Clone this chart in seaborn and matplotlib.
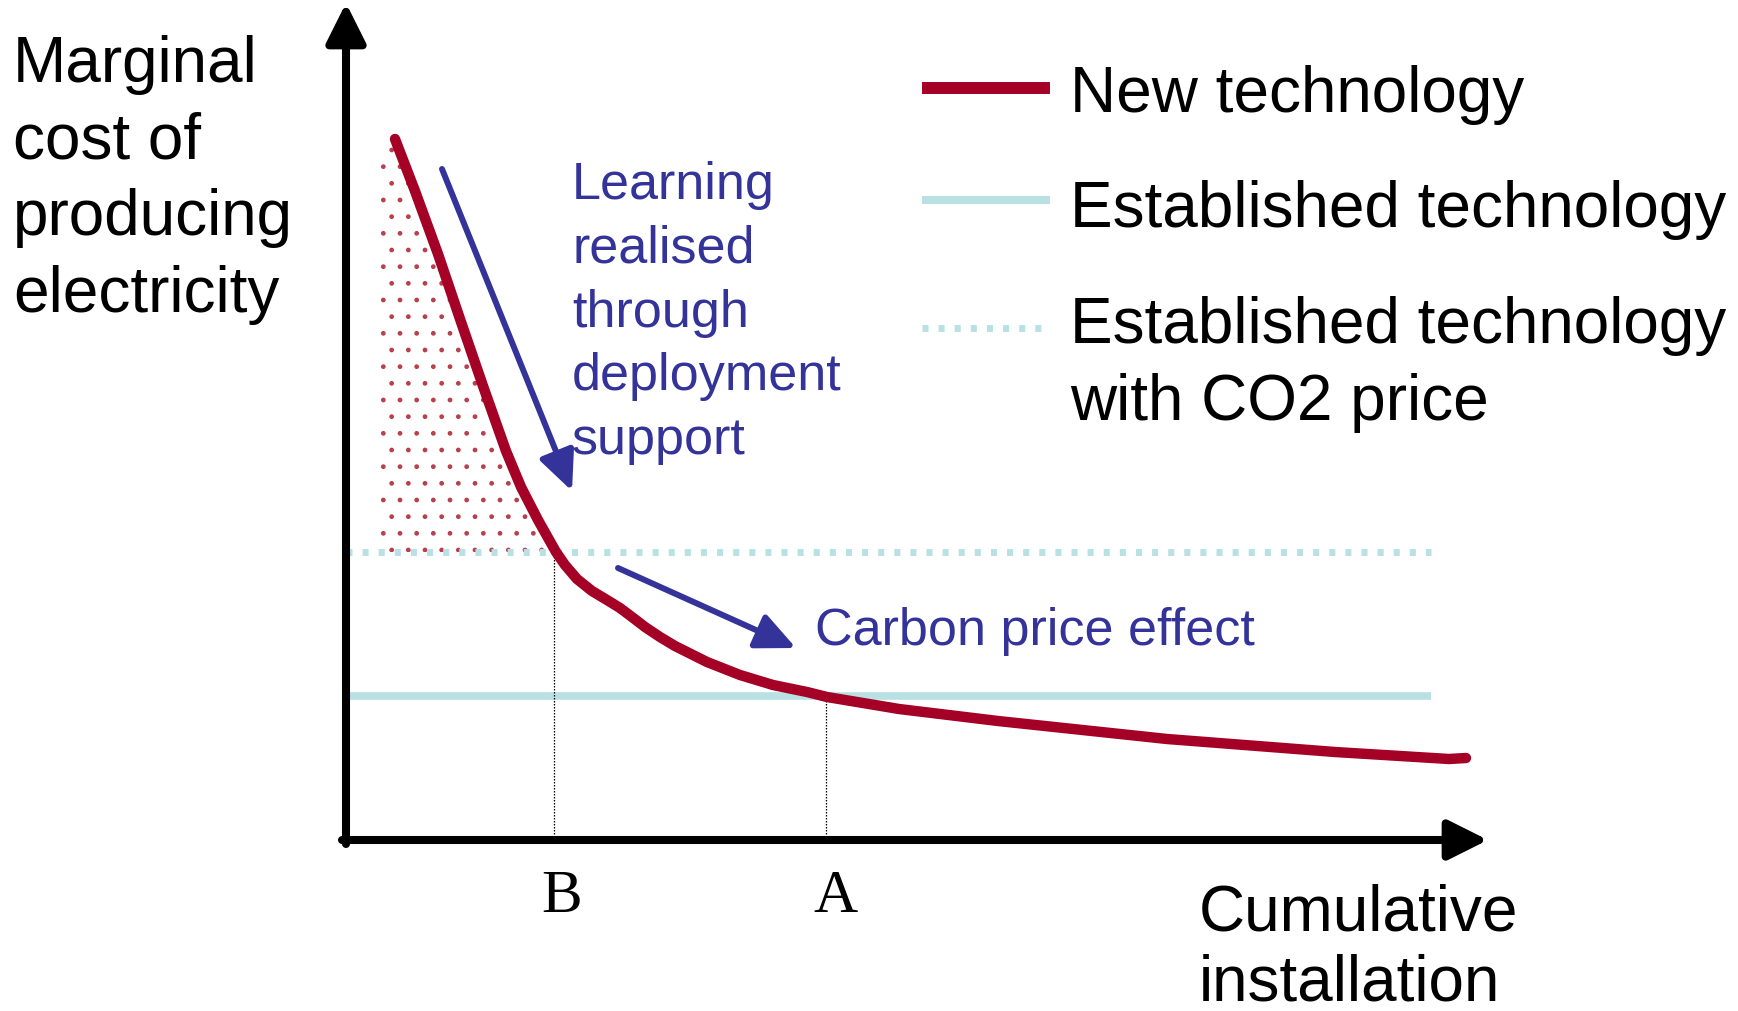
import matplotlib
matplotlib.use("Agg")
import matplotlib.pyplot as plt
from matplotlib.lines import Line2D
import seaborn as sns

# learning curve of the new technology (arbitrary units)
installation = [4.9, 6.9, 9.2, 11.4, 13.7, 16.0, 17.5, 19.2, 21.0, 21.9, 23.1, 24.6,
                26.1, 27.4, 28.6, 29.9, 31.4, 32.9, 36.1, 39.4, 42.7, 46.1, 48.1,
                55.3, 65.2, 82.1, 98.9, 110.3, 112.0]
new_cost = [70.1, 64.9, 58.6, 52.1, 45.4, 38.9, 35.3, 32.0, 28.8, 27.5, 26.1, 24.9,
            24.0, 23.2, 22.3, 21.3, 20.3, 19.4, 17.8, 16.5, 15.5, 14.8, 14.3,
            13.1, 11.9, 10.1, 8.8, 8.1, 8.2]

established_cost = 14.4      # established technology
established_co2_cost = 28.8  # established technology with CO2 price
line_end = 108.5

point_b = 20.8
point_a = 48.0
hatch_left = 3.4

learning_arrow = [(9.6, 67.1), (22.6, 34.9)]
carbon_arrow = [(27.2, 27.2), (45.0, 19.2)]

RED = "#a50026"
CYAN = "#b9e1e3"
BLUE = "#333399"
DOT_RED = "#b8404e"

W, H = 1738, 1012

sns.set_theme(style="white")
plt.rcParams["font.family"] = ["Liberation Sans", "DejaVu Sans"]
plt.rcParams["text.color"] = "black"


def fx(px):
    return px / W


def fy(py):
    return 1 - py / H


fig = plt.figure(figsize=(W / 100, H / 100), dpi=100)
ax = fig.add_axes([fx(346), fy(841), (1482 - 346) / W, (841 - 8) / H])
ax.set_xlim(0, 113.6)
ax.set_ylim(0, 83.3)
ax.axis("off")

# dotted area: extra cost covered by deployment support
n_fill = next(i for i, c in enumerate(new_cost) if c <= established_co2_cost) + 1
ax.fill_betweenx(new_cost[:n_fill], hatch_left, installation[:n_fill],
                 facecolor="none", edgecolor=DOT_RED, hatch=".", lw=0)

# established technology lines
ax.plot([0, line_end], [established_co2_cost] * 2, color=CYAN, lw=5,
        dashes=(0.87, 1.45), dash_capstyle="butt")
ax.plot([0, line_end], [established_cost] * 2, color=CYAN, lw=5.5,
        solid_capstyle="butt")

# guides down to B and A
ax.plot([point_b, point_b], [0, established_co2_cost], color="black", lw=0.9,
        ls=(0, (1.2, 1.2)))
ax.plot([point_a, point_a], [0, established_cost], color="black", lw=0.9,
        ls=(0, (1.2, 1.2)))

# new technology curve
sns.lineplot(x=installation, y=new_cost, sort=False, color=RED, lw=7.5, ax=ax,
             solid_capstyle="round", solid_joinstyle="round")

# axes with arrow heads
axis_arrow = dict(arrowstyle="-|>,head_length=24,head_width=12", mutation_scale=1,
                  color="black", lw=5.8, shrinkA=0, shrinkB=0)
ax.annotate("", xy=(114.2, 0), xytext=(-0.4, 0), arrowprops=axis_arrow,
            annotation_clip=False)
ax.annotate("", xy=(0, 83.7), xytext=(0, -0.4), arrowprops=axis_arrow,
            annotation_clip=False)

# blue arrows
blue_arrow = dict(arrowstyle="-|>,head_length=24,head_width=11", mutation_scale=1,
                  color=BLUE, lw=4.3, shrinkA=0, shrinkB=0)
for start, end in (learning_arrow, carbon_arrow):
    ax.annotate("", xy=end, xytext=start, arrowprops=blue_arrow)

# texts
fig.text(fx(13), fy(35), "Marginal\ncost of\nproducing\nelectricity", fontsize=46,
         va="top", ha="left", linespacing=1.355)
fig.text(fx(1199), fy(884), "Cumulative\ninstallation", fontsize=46,
         va="top", ha="left", linespacing=1.2)
fig.text(fx(572), fy(161), "Learning\nrealised\nthrough\ndeployment\nsupport",
         fontsize=37.5, va="top", ha="left", linespacing=1.39, color=BLUE)
fig.text(fx(815), fy(645), "Carbon price effect", fontsize=37.5, va="baseline",
         ha="left", color=BLUE)
fig.text(fx(562), fy(912), "B", fontsize=44, va="baseline", ha="center",
         family="Liberation Serif")
fig.text(fx(835), fy(912), "A", fontsize=44, va="baseline", ha="center",
         family="Liberation Serif")

# legend drawn by hand so the handle sits on the first label line
fig.add_artist(Line2D([fx(922), fx(1050)], [fy(89)] * 2, color=RED, lw=8.6,
                      solid_capstyle="butt"))
fig.add_artist(Line2D([fx(922), fx(1050)], [fy(201)] * 2, color=CYAN, lw=5.8,
                      solid_capstyle="butt"))
fig.add_artist(Line2D([fx(922), fx(1046)], [fy(329)] * 2, color=CYAN, lw=5,
                      dashes=(0.87, 1.45), dash_capstyle="butt"))
fig.text(fx(1070), fy(112), "New technology", fontsize=46, va="baseline")
fig.text(fx(1070), fy(227), "Established technology", fontsize=46, va="baseline")
fig.text(fx(1070), fy(296), "Established technology\nwith CO2 price", fontsize=46,
         va="top", linespacing=1.37)

fig.savefig("out.png", dpi=100, facecolor="white")
